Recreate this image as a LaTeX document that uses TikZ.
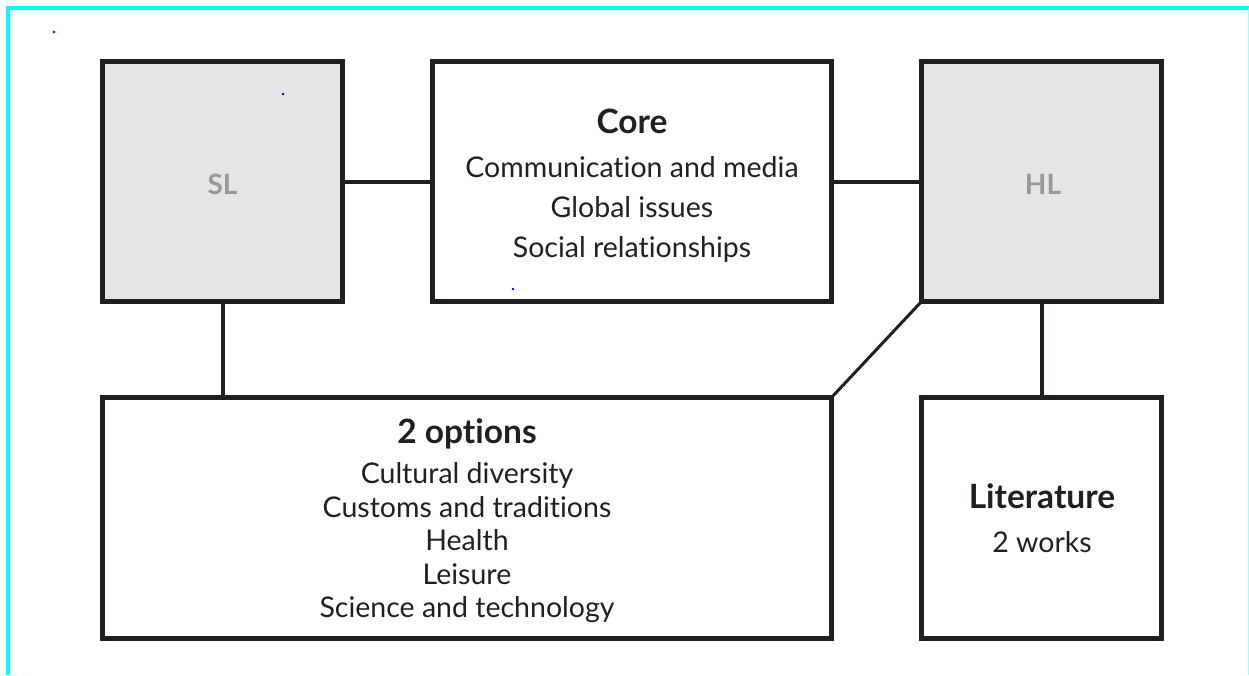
\documentclass[tikz,border=0pt]{standalone}
\usepackage{fontspec}
\setmainfont{Lato}[Ligatures={NoCommon,NoContextual}]
\definecolor{ink}{HTML}{231F20}
\definecolor{boxgray}{HTML}{E6E6E6}
\definecolor{labgray}{HTML}{999999}
\definecolor{frame}{HTML}{00FFFF}
\tikzset{
  box/.style={draw=ink, line width=5pt, inner sep=0pt, outer sep=0pt},
  level/.style={box, fill=boxgray},
  link/.style={draw=ink, line width=4pt},
  lvltxt/.style={anchor=base, inner sep=0pt, text=labgray, font=\fontsize{28}{34}\bfseries\selectfont},
  title/.style={anchor=base, inner sep=0pt, text=ink, font=\fontsize{33.5}{38}\bfseries\selectfont},
  item/.style={anchor=base, inner sep=0pt, text=ink, font=\fontsize{28.5}{32}\selectfont},
}
\begin{document}
\begin{tikzpicture}[x=1pt, y=-1pt]
\useasboundingbox (0,0) rectangle (1249,675);
% cyan frame
\draw[frame, line width=4pt] (8,675) -- (8,8) -- (1249,8);
\draw[frame!40, line width=1pt] (1248,8) -- (1248,675);
% boxes
\node[level, minimum width=240pt, minimum height=240pt] (SL) at (222.5,181.5) {};
\node[box, minimum width=399pt, minimum height=240pt] (core) at (632,181.5) {};
\node[level, minimum width=240pt, minimum height=240pt] (HL) at (1041.5,181.5) {};
\node[box, minimum width=729pt, minimum height=241pt] (opt) at (467,518) {};
\node[box, minimum width=240pt, minimum height=241pt] (lit) at (1041.5,518) {};
% connectors
\draw[link] (SL.east) -- (core.west);
\draw[link] (core.east) -- (HL.east -| HL.west);
\draw[link] (SL.south) -- (SL.south |- opt.north);
\draw[link] (HL.south) -- (HL.south |- lit.north);
\draw[draw=ink, line width=3pt] (HL.south west) -- (opt.north east);
% texts
\node[lvltxt] (slt) at (222.5,194) {SL};
\node[lvltxt] (hlt) at (1043,194) {HL};
\node[title] (coret) at (632,133) {Core};
\node[item] (c1) at (632,177) {Communication and media};
\node[item] (c2) at (632,217) {Global issues};
\node[item] (c3) at (632,257) {Social relationships};
\node[title] (optt) at (467,443) {2 options};
\node[item] (o1) at (467,483) {Cultural diversity};
\node[item] (o2) at (467,517) {Customs and traditions};
\node[item] (o3) at (467,550) {Health};
\node[item] (o4) at (467,584) {Leisure};
\node[item] (o5) at (467,617) {Science and technology};
\node[title] (litt) at (1042,508) {Literature};
\node[item] (l1) at (1042,552) {2 works};
% stray dots
\fill[blue] (54,32) circle (1.3pt);
\fill[blue] (283,94) circle (1.3pt);
\fill[blue] (513,289) circle (1.3pt);
\end{tikzpicture}
\end{document}
